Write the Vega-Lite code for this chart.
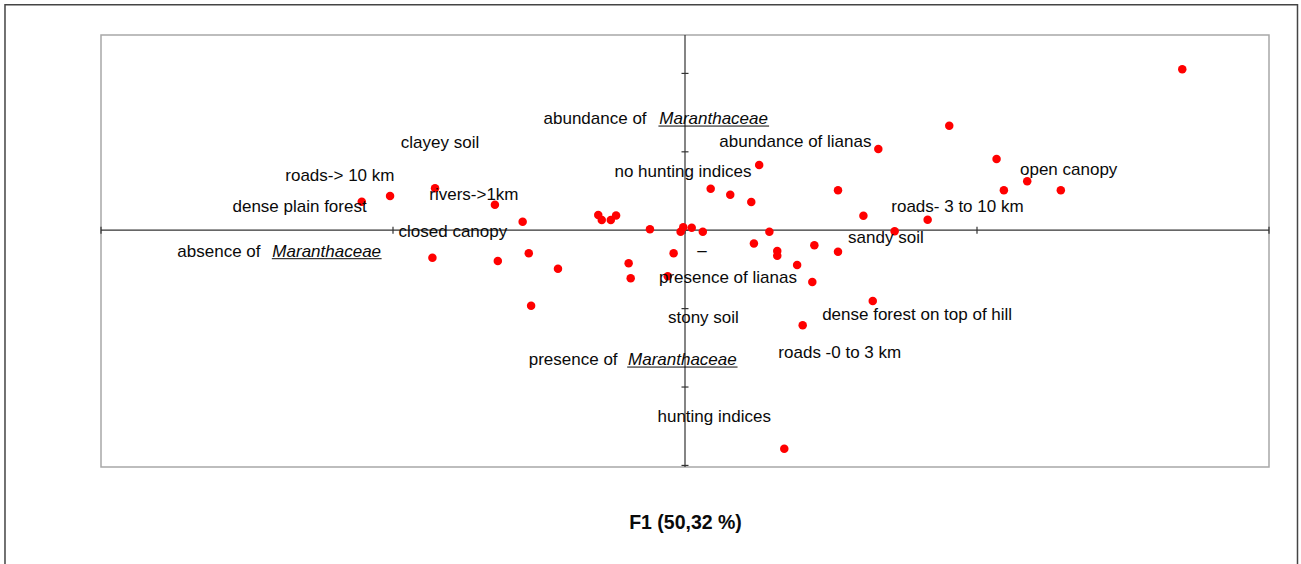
{
  "$schema": "https://vega.github.io/schema/vega-lite/v6.json",
  "width": 1168,
  "height": 432,
  "autosize": {"type": "none"},
  "padding": {"left": 101, "top": 35, "right": 32, "bottom": 97},
  "background": "white",
  "config": {
    "view": {"stroke": "#a8a8a8", "strokeWidth": 1.5},
    "text": {"font": "Liberation Sans", "fontSize": 17, "color": "#0a0a0a"},
    "axisX": {"domain": false, "ticks": false, "labels": false, "grid": false,
              "titleFont": "Liberation Sans", "titleFontSize": 19.5, "titleFontWeight": "bold", "titleColor": "#0a0a0a", "titlePadding": 46}
  },
  "datasets": {
    "one": [{}],
    "points": [
      {"x": 1.703, "y": 2.052}, {"x": 0.905, "y": 1.333}, {"x": 0.662, "y": 1.036}, {"x": 1.067, "y": 0.908},
      {"x": 0.254, "y": 0.832}, {"x": 1.172, "y": 0.624}, {"x": 1.092, "y": 0.509}, {"x": 1.287, "y": 0.509},
      {"x": 0.524, "y": 0.509}, {"x": 0.088, "y": 0.529}, {"x": 0.155, "y": 0.453}, {"x": 0.227, "y": 0.36},
      {"x": 0.611, "y": 0.185}, {"x": 0.831, "y": 0.134}, {"x": 0.718, "y": -0.014}, {"x": 0.289, "y": -0.019},
      {"x": -1.107, "y": 0.364}, {"x": -1.01, "y": 0.436}, {"x": -0.856, "y": 0.534}, {"x": -0.651, "y": 0.325},
      {"x": -0.556, "y": 0.108}, {"x": -0.297, "y": 0.194}, {"x": -0.285, "y": 0.13}, {"x": -0.254, "y": 0.13},
      {"x": -0.236, "y": 0.188}, {"x": -0.12, "y": 0.011}, {"x": -0.015, "y": -0.019}, {"x": -0.006, "y": 0.037},
      {"x": 0.023, "y": 0.032}, {"x": 0.061, "y": -0.019}, {"x": 0.236, "y": -0.17}, {"x": 0.316, "y": -0.265},
      {"x": 0.316, "y": -0.325}, {"x": 0.443, "y": -0.193}, {"x": 0.524, "y": -0.274}, {"x": 0.384, "y": -0.444},
      {"x": 0.436, "y": -0.661}, {"x": -0.039, "y": -0.295}, {"x": -0.193, "y": -0.422}, {"x": -0.186, "y": -0.614},
      {"x": -0.059, "y": -0.588}, {"x": -0.435, "y": -0.491}, {"x": -0.535, "y": -0.295}, {"x": -0.641, "y": -0.393},
      {"x": -0.865, "y": -0.351}, {"x": -0.527, "y": -0.963}, {"x": 0.643, "y": -0.903}, {"x": 0.403, "y": -1.213},
      {"x": 0.34, "y": -2.787}
    ],
    "labels": [
      {"label": "abundance of", "x": -0.308, "y": 1.418},
      {"label": "abundance of lianas", "x": 0.378, "y": 1.129},
      {"label": "no hunting indices", "x": -0.007, "y": 0.746},
      {"label": "clayey soil", "x": -0.839, "y": 1.116},
      {"label": "roads-> 10 km", "x": -1.182, "y": 0.691},
      {"label": "rivers->1km", "x": -0.723, "y": 0.449},
      {"label": "dense plain forest", "x": -1.32, "y": 0.292},
      {"label": "closed canopy", "x": -0.795, "y": -0.027},
      {"label": "absence of", "x": -1.596, "y": -0.274},
      {"label": "open canopy", "x": 1.314, "y": 0.768},
      {"label": "roads- 3 to 10 km", "x": 0.933, "y": 0.292},
      {"label": "sandy soil", "x": 0.688, "y": -0.103},
      {"label": "presence of lianas", "x": 0.147, "y": -0.614},
      {"label": "stony soil", "x": 0.063, "y": -1.124},
      {"label": "presence of", "x": -0.383, "y": -1.656},
      {"label": "dense forest on top of hill", "x": 0.795, "y": -1.082},
      {"label": "roads -0 to 3 km", "x": 0.53, "y": -1.563},
      {"label": "hunting indices", "x": 0.1, "y": -2.379},
      {"label": "–", "x": 0.058, "y": -0.265}
    ],
    "genus": [
      {"label": "Maranthaceae", "x": 0.098, "y": 1.418, "x1": -0.091, "x2": 0.288},
      {"label": "Maranthaceae", "x": -1.227, "y": -0.274, "x1": -1.415, "x2": -1.039},
      {"label": "Maranthaceae", "x": -0.009, "y": -1.656, "x1": -0.198, "x2": 0.18}
    ],
    "xticks": [{"v": -2}, {"v": -1}, {"v": 0}, {"v": 1}, {"v": 2}],
    "yticks": [{"v": -3}, {"v": -2}, {"v": -1}, {"v": 0}, {"v": 1}, {"v": 2}]
  },
  "layer": [
    {
      "data": {"name": "one"},
      "mark": {"type": "rect", "fill": null, "stroke": "#444", "strokeWidth": 1.5, "clip": false},
      "encoding": {
        "x": {"datum": -2.3288, "type": "quantitative", "scale": {"domain": [-2, 2], "nice": false, "zero": false}, "title": "F1 (50,32 %)"},
        "x2": {"datum": 2.0976},
        "y": {"datum": 2.875, "type": "quantitative", "scale": {"domain": [-3.02, 2.49], "nice": false, "zero": false}, "axis": null},
        "y2": {"datum": -4.4}
      }
    },
    {
      "data": {"name": "one"},
      "mark": {"type": "rule", "color": "#333", "strokeWidth": 1.2},
      "encoding": {
        "y": {"datum": 0, "type": "quantitative", "scale": {"domain": [-3.02, 2.49], "nice": false, "zero": false}, "axis": null}
      }
    },
    {
      "data": {"name": "one"},
      "mark": {"type": "rule", "color": "#333", "strokeWidth": 1.2},
      "encoding": {
        "x": {"datum": 0, "type": "quantitative", "scale": {"domain": [-2, 2], "nice": false, "zero": false}, "title": "F1 (50,32 %)"}
      }
    },
    {
      "data": {"name": "xticks"},
      "mark": {"type": "rule", "color": "#333", "strokeWidth": 1.2, "yOffset": -3.5, "y2Offset": 3.5},
      "encoding": {
        "x": {"field": "v", "type": "quantitative", "scale": {"domain": [-2, 2], "nice": false, "zero": false}, "title": "F1 (50,32 %)"},
        "y": {"datum": 0, "type": "quantitative", "scale": {"domain": [-3.02, 2.49], "nice": false, "zero": false}, "axis": null},
        "y2": {"datum": 0}
      }
    },
    {
      "data": {"name": "yticks"},
      "mark": {"type": "rule", "color": "#333", "strokeWidth": 1.2, "xOffset": -3.5, "x2Offset": 3.5},
      "encoding": {
        "y": {"field": "v", "type": "quantitative", "scale": {"domain": [-3.02, 2.49], "nice": false, "zero": false}, "axis": null},
        "x": {"datum": 0, "type": "quantitative", "scale": {"domain": [-2, 2], "nice": false, "zero": false}, "title": "F1 (50,32 %)"},
        "x2": {"datum": 0}
      }
    },
    {
      "data": {"name": "points"},
      "mark": {"type": "circle", "color": "#ff0000", "opacity": 1, "size": 72},
      "encoding": {
        "x": {"field": "x", "type": "quantitative", "scale": {"domain": [-2, 2], "nice": false, "zero": false}, "title": "F1 (50,32 %)"},
        "y": {"field": "y", "type": "quantitative", "scale": {"domain": [-3.02, 2.49], "nice": false, "zero": false}, "axis": null}
      }
    },
    {
      "data": {"name": "labels"},
      "mark": {"type": "text", "align": "center", "baseline": "middle"},
      "encoding": {
        "x": {"field": "x", "type": "quantitative", "scale": {"domain": [-2, 2], "nice": false, "zero": false}, "title": "F1 (50,32 %)"},
        "y": {"field": "y", "type": "quantitative", "scale": {"domain": [-3.02, 2.49], "nice": false, "zero": false}, "axis": null},
        "text": {"field": "label"}
      }
    },
    {
      "data": {"name": "genus"},
      "mark": {"type": "text", "align": "center", "baseline": "middle", "fontStyle": "italic"},
      "encoding": {
        "x": {"field": "x", "type": "quantitative", "scale": {"domain": [-2, 2], "nice": false, "zero": false}, "title": "F1 (50,32 %)"},
        "y": {"field": "y", "type": "quantitative", "scale": {"domain": [-3.02, 2.49], "nice": false, "zero": false}, "axis": null},
        "text": {"field": "label"}
      }
    },
    {
      "data": {"name": "genus"},
      "mark": {"type": "rule", "color": "#0a0a0a", "strokeWidth": 1, "yOffset": 7},
      "encoding": {
        "x": {"field": "x1", "type": "quantitative", "scale": {"domain": [-2, 2], "nice": false, "zero": false}, "title": "F1 (50,32 %)"},
        "x2": {"field": "x2"},
        "y": {"field": "y", "type": "quantitative", "scale": {"domain": [-3.02, 2.49], "nice": false, "zero": false}, "axis": null}
      }
    }
  ]
}
